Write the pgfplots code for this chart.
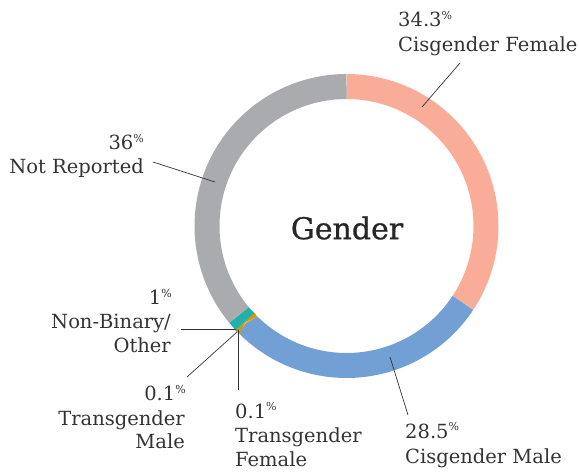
\documentclass[border=0pt]{standalone}
\usepackage{pgfplots}
\pgfplotsset{compat=1.18}
\usepackage{fontspec}
\setmainfont{DejaVu Serif}
\newfontfamily\titlefont[FakeBold=0.8]{DejaVu Serif}
\definecolor{cfem}{HTML}{F9AD98}
\definecolor{cmale}{HTML}{729FD4}
\definecolor{tfem}{HTML}{F2C12E}
\definecolor{tmale}{HTML}{C99A22}
\definecolor{nonbin}{HTML}{20B2AA}
\definecolor{notrep}{HTML}{AAABAE}
\definecolor{txt}{HTML}{333333}
\newcommand{\pct}{\raisebox{0.7ex}{\fontsize{11}{11}\selectfont\%}}
\tikzset{lab/.style={font=\fontsize{19.5}{24}\selectfont, text=txt, inner sep=0pt}}
% segment: start percent, end percent (cumulative, from 12 o'clock clockwise), colour
\newcommand{\seg}[3]{\addplot[draw=#3, line width=25pt, domain={90-3.6*(#2)}:{90-3.6*(#1)}, samples=90, variable=\t] ({346.5+139.5*cos(\t)},{246+139.5*sin(\t)});}
\begin{document}
\begin{tikzpicture}
\begin{axis}[
  width=579pt, height=472pt, scale only axis,
  xmin=0, xmax=579, ymin=0, ymax=472,
  hide axis, clip=false, enlargelimits=false,
]
\path (axis cs:0,0) rectangle (axis cs:579,472);
% values: Cisgender Female 34.3, Cisgender Male 28.5, Transgender Female 0.1,
% Transgender Male 0.1, Non-Binary/Other 1, Not Reported 36
\seg{0}{34.3}{cfem}
\seg{34.3}{62.8}{cmale}
\seg{62.8}{62.9}{tfem}
\seg{62.9}{63.0}{tmale}
\seg{63.0}{64.0}{nonbin}
\seg{64.0}{100}{notrep}

\node[font=\titlefont\fontsize{30}{36}\selectfont, text=black!85, inner sep=0pt] at (axis cs:347,244) {Gender};

% leader lines
\draw[txt, line width=0.7pt] (axis cs:422,365) -- (axis cs:460,409);
\draw[txt, line width=0.7pt] (axis cs:153,310) -- (axis cs:215,290);
\draw[txt, line width=0.7pt] (axis cs:181,143) -- (axis cs:236,143);
\draw[txt, line width=0.7pt] (axis cs:187,95) -- (axis cs:237,140);
\draw[txt, line width=0.7pt] (axis cs:238,142) -- (axis cs:238,82);
\draw[txt, line width=0.7pt] (axis cs:390,115) -- (axis cs:408,57);

% labels
\node[lab, anchor=base west] at (axis cs:398,445) {34.3\pct};
\node[lab, anchor=base west] at (axis cs:398,420) {Cisgender Female};
\node[lab, anchor=base east] at (axis cs:144,322) {36\pct};
\node[lab, anchor=base east] at (axis cs:144,298) {Not Reported};
\node[lab, anchor=base east] at (axis cs:172,167) {1\pct};
\node[lab, anchor=base east] at (axis cs:171,143) {Non-Binary/};
\node[lab, anchor=base east] at (axis cs:171,119) {Other};
\node[lab, anchor=base east] at (axis cs:186,71) {0.1\pct};
\node[lab, anchor=base east] at (axis cs:185,47) {Transgender};
\node[lab, anchor=base east] at (axis cs:185,24) {Male};
\node[lab, anchor=base west] at (axis cs:235,54) {0.1\pct};
\node[lab, anchor=base west] at (axis cs:235,30) {Transgender};
\node[lab, anchor=base west] at (axis cs:235,6) {Female};
\node[lab, anchor=base west] at (axis cs:405,34) {28.5\pct};
\node[lab, anchor=base west] at (axis cs:405,9) {Cisgender Male};
\end{axis}
\end{tikzpicture}
\end{document}
